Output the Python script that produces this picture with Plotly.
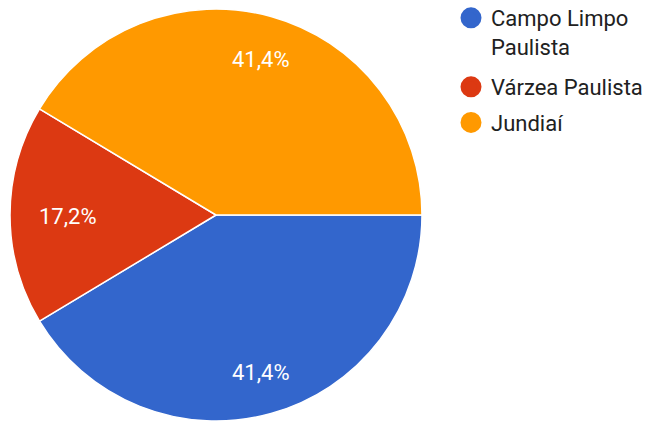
import math
import plotly.graph_objects as go

labels = ["Campo Limpo Paulista", "Várzea Paulista", "Jundiaí"]
legend_labels = ["Campo Limpo<br>Paulista", "Várzea Paulista", "Jundiaí"]
values = [12, 5, 12]
colors = ["#3366CC", "#DC3912", "#FF9900"]

W, H = 657, 421


def sx(px):
    return px / W


def sy(py):
    return 1 - py / H


# pie geometry in screen pixels
CX, CY, R = 216, 215, 206
START = 90  # degrees clockwise from 12 o'clock

fig = go.Figure()
fig.add_trace(go.Pie(
    labels=labels,
    values=values,
    sort=False,
    direction="clockwise",
    rotation=START,
    marker=dict(colors=colors, line=dict(color="white", width=1.5)),
    textinfo="none",
    showlegend=False,
    hoverinfo="label+percent",
    domain=dict(x=[sx(CX - R), sx(CX + R)], y=[max(0, sy(CY + R)), sy(CY - R)]),
))

# percentage labels placed near the outer part of each slice
total = sum(values)
cum = 0
annotations = []
for v in values:
    frac = v / total
    mid = math.radians(START + (cum + frac / 2) * 360)
    cum += frac
    ux, uy = math.sin(mid), -math.cos(mid)
    rr = 0.86 * R
    px, py = CX + ux * rr, CY + uy * rr
    xa = "left" if ux < -0.5 else ("right" if ux > 0.5 else "center")
    ya = "top" if uy < -0.5 else ("bottom" if uy > 0.5 else "middle")
    txt = f"{frac * 100:.1f}%".replace(".", ",")
    annotations.append(dict(
        x=sx(px - 2), y=sy(py + 1), xref="paper", yref="paper",
        text=txt, showarrow=False, xanchor=xa, yanchor=ya,
        font=dict(family="Roboto", size=22, color="white"),
    ))

legend_names = ["legend", "legend2", "legend2"]
for i, (name, col) in enumerate(zip(legend_labels, colors)):
    fig.add_trace(go.Scatter(
        x=[None], y=[None], mode="markers", name=name,
        marker=dict(symbol="circle", size=16, color=col,
                    line=dict(color=col, width=5)),
        showlegend=True, legend=legend_names[i], legendgroup=f"g{i}",
    ))

leg_common = dict(
    xanchor="left", yanchor="top",
    font=dict(family="Roboto", size=22, color="#212121"),
    itemsizing="trace",
    tracegroupgap=4,
    valign="top",
    bgcolor="rgba(0,0,0,0)",
)

fig.update_layout(
    width=W, height=H,
    margin=dict(l=0, r=0, t=0, b=0, autoexpand=False),
    paper_bgcolor="white",
    plot_bgcolor="white",
    xaxis=dict(visible=False),
    yaxis=dict(visible=False),
    annotations=annotations,
    legend=dict(x=sx(451), y=sy(-3), **leg_common),
    legend2=dict(x=sx(451), y=sy(66), **leg_common),
)

fig.write_html("out.html", config={"displayModeBar": False},
               post_script="document.body.style.margin='0';")
